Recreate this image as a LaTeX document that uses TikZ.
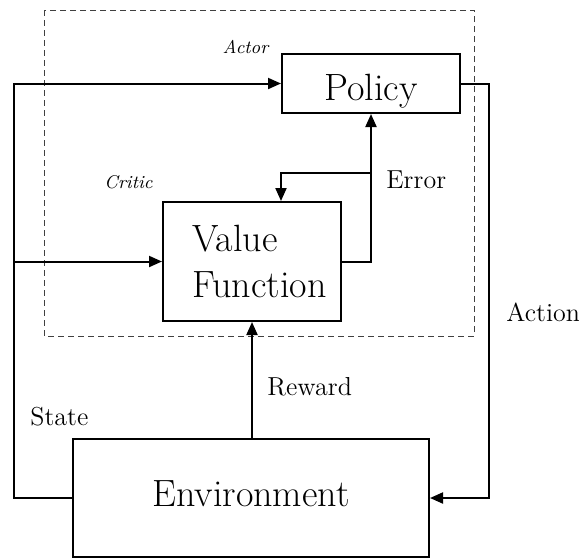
\documentclass[tikz,border=0pt]{standalone}
\usetikzlibrary{arrows.meta}
\begin{document}
\begin{tikzpicture}[x=0.5pt,y=-0.5pt,
  box/.style={draw,line width=1pt,rectangle,inner sep=0pt},
  bigtxt/.style={font=\fontsize{19}{23}\selectfont},
  lbl/.style={font=\fontsize{13}{15}\selectfont,inner sep=0pt},
  ital/.style={font=\fontsize{9.2}{11}\selectfont\itshape,inner sep=0pt},
  arr/.style={line width=1pt,-{Triangle[length=6.5pt,width=5.5pt]}},
  grp/.style={draw=black!75,line width=0.5pt,dash pattern=on 3pt off 2pt}]
\useasboundingbox (0,0) rectangle (579,558);
% dashed group
\draw[grp] (44,10) rectangle (474,336);
% nodes
\node[box,bigtxt,minimum width=89pt,minimum height=29.5pt,text height=20pt,text depth=3.5pt] (policy) at (371,83.5) {Policy};
\node[box,bigtxt,minimum width=89pt,minimum height=59.5pt,align=left] (vf) at (252,261.5) {\hspace*{7.5pt}Value\\\hspace*{7.5pt}Function};
\node[box,bigtxt,minimum width=178pt,minimum height=59pt,text height=13pt,text depth=5pt] (env) at (251,498) {Environment};
% coordinates
\coordinate (sl) at (14,498);
\coordinate (st) at (14,83.5);
\coordinate (sm) at (14,261.5);
\coordinate (ar) at (489,83.5);
\coordinate (ab) at (489,498);
\coordinate (ev) at (371,261.5);
\coordinate (ej) at (371,173);
\coordinate (ek) at (281,173);
% connectors
\draw[arr] (env.west) -- (sl) -- (st) -- (policy.west);
\draw[arr] (sm) -- (vf.west);
\draw[arr] (policy.east) -- (ar) -- (ab) -- (env.east);
\draw[arr] (vf.east) -- (ev) -- (policy.south);
\draw[arr] (ej) -- (ek) -- (ek |- vf.north);
\draw[arr] (vf.south |- env.north) -- (vf.south);
% labels
\node[ital,anchor=base] (actor) at (245.5,53) {Actor};
\node[ital,anchor=base] (critic) at (128.5,188) {Critic};
\node[lbl,anchor=base west] (error) at (386,188) {Error};
\node[lbl,anchor=base west] (action) at (506,321) {Action};
\node[lbl,anchor=base west] (reward) at (267,395) {Reward};
\node[lbl,anchor=base west] (state) at (30,425) {State};
\end{tikzpicture}
\end{document}
